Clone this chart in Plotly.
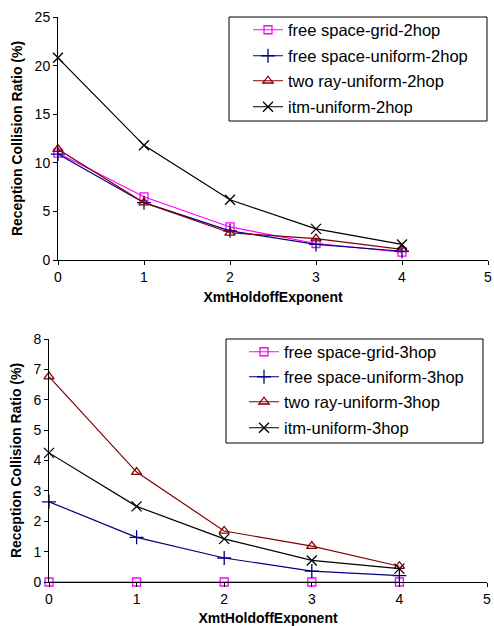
import plotly.graph_objects as go

x_vals = [0, 1, 2, 3, 4]

# Top chart (2hop)
grid_2hop = [11.0, 6.5, 3.4, 1.7, 0.8]
fs_uniform_2hop = [10.9, 5.9, 3.0, 1.6, 0.9]
tworay_2hop = [11.4, 5.9, 2.8, 2.2, 1.1]
itm_2hop = [20.8, 11.8, 6.2, 3.2, 1.6]

# Bottom chart (3hop)
grid_3hop = [0.0, 0.0, 0.0, 0.0, 0.0]
fs_uniform_3hop = [2.64, 1.47, 0.79, 0.36, 0.21]
tworay_3hop = [6.76, 3.62, 1.68, 1.18, 0.52]
itm_3hop = [4.25, 2.49, 1.42, 0.71, 0.44]

names_2hop = ["free space-grid-2hop", "free space-uniform-2hop", "two ray-uniform-2hop", "itm-uniform-2hop"]
names_3hop = ["free space-grid-3hop", "free space-uniform-3hop", "two ray-uniform-3hop", "itm-uniform-3hop"]
x_ticks = [0, 1, 2, 3, 4, 5]

colors = ["#FF00FF", "#000080", "#800000", "#000000"]
symbols = ["square-open", "cross-thin-open", "triangle-up-open", "x-thin-open"]
sizes = [8, 10, 9, 10]

W, H = 494, 626
def px(v):
    return v / W
def py(v):
    return 1 - v / H

FONT = "Liberation Sans, Arial, sans-serif"
fig = go.Figure()

# legend row centres (pixels from top)
rows_top = [30, 56, 81, 107]
rows_bot = [352, 377, 402, 428]

legend_common = dict(xanchor="left", yanchor="middle", borderwidth=0, bgcolor="rgba(0,0,0,0)",
                     font=dict(family=FONT, size=16.5, color="#000000"), itemwidth=30)
legends = {}

for i, (name, ys) in enumerate(zip(names_2hop, [grid_2hop, fs_uniform_2hop, tworay_2hop, itm_2hop])):
    lg = "legend" if i == 0 else f"legend{i + 1}"
    legends[lg] = dict(x=px(248), y=py(rows_top[i]), **legend_common)
    fig.add_trace(go.Scatter(
        x=x_vals, y=ys, name=name, mode="lines+markers",
        line=dict(color=colors[i], width=1.2),
        marker=dict(symbol=symbols[i], size=sizes[i], color=colors[i], line=dict(color=colors[i], width=1.3)),
        xaxis="x", yaxis="y", legend=lg, cliponaxis=False,
    ))

for i, (name, ys) in enumerate(zip(names_3hop, [grid_3hop, fs_uniform_3hop, tworay_3hop, itm_3hop])):
    lg = f"legend{i + 5}"
    legends[lg] = dict(x=px(244), y=py(rows_bot[i]), **legend_common)
    fig.add_trace(go.Scatter(
        x=x_vals, y=ys, name=name, mode="lines+markers",
        line=dict(color=colors[i], width=1.2),
        marker=dict(symbol=symbols[i], size=sizes[i], color=colors[i], line=dict(color=colors[i], width=1.3)),
        xaxis="x2", yaxis="y2", legend=lg, cliponaxis=False,
    ))

axis_common = dict(
    showgrid=False, zeroline=False, showline=True, linecolor="#000000", linewidth=1,
    ticks="outside", ticklen=4, tickcolor="#000000", tickwidth=1, automargin=False,
    tickfont=dict(family=FONT, size=14, color="#000000"),
)

title_font = dict(family=FONT, size=14, color="#000000")

fig.update_layout(
    width=W, height=H,
    margin=dict(l=0, r=0, t=0, b=0, autoexpand=False),
    paper_bgcolor="white", plot_bgcolor="white",
    font=dict(family=FONT, color="#000000"),
    xaxis=dict(domain=[px(58), px(488)], range=[0, 5], tickvals=x_ticks, anchor="y",
               title=dict(text="<b>XmtHoldoffExponent</b>", font=title_font, standoff=8), **axis_common),
    yaxis=dict(domain=[py(260), py(17)], range=[0, 25], tickvals=[0, 5, 10, 15, 20, 25], anchor="x",
               title=dict(text="<b>Reception Collision Ratio (%)</b>", font=title_font, standoff=8), **axis_common),
    xaxis2=dict(domain=[px(49), px(487)], range=[0, 5], tickvals=x_ticks, anchor="y2",
                title=dict(text="<b>XmtHoldoffExponent</b>", font=title_font, standoff=9), **axis_common),
    yaxis2=dict(domain=[py(582), py(339)], range=[0, 8], tickvals=list(range(0, 9)), anchor="x2",
                title=dict(text="<b>Reception Collision Ratio (%)</b>", font=title_font, standoff=8), **axis_common),
    showlegend=True,
    shapes=[
        dict(type="rect", xref="paper", yref="paper", x0=px(229), x1=px(487), y0=py(121), y1=py(17),
             line=dict(color="#000000", width=1), fillcolor="white", layer="above"),
        dict(type="rect", xref="paper", yref="paper", x0=px(226), x1=px(483), y0=py(443), y1=py(339),
             line=dict(color="#000000", width=1), fillcolor="white", layer="above"),
    ],
    **legends,
)

fig.write_html("out.html", config={"displayModeBar": False},
               post_script="document.body.style.margin='0';document.body.style.overflow='hidden';")
